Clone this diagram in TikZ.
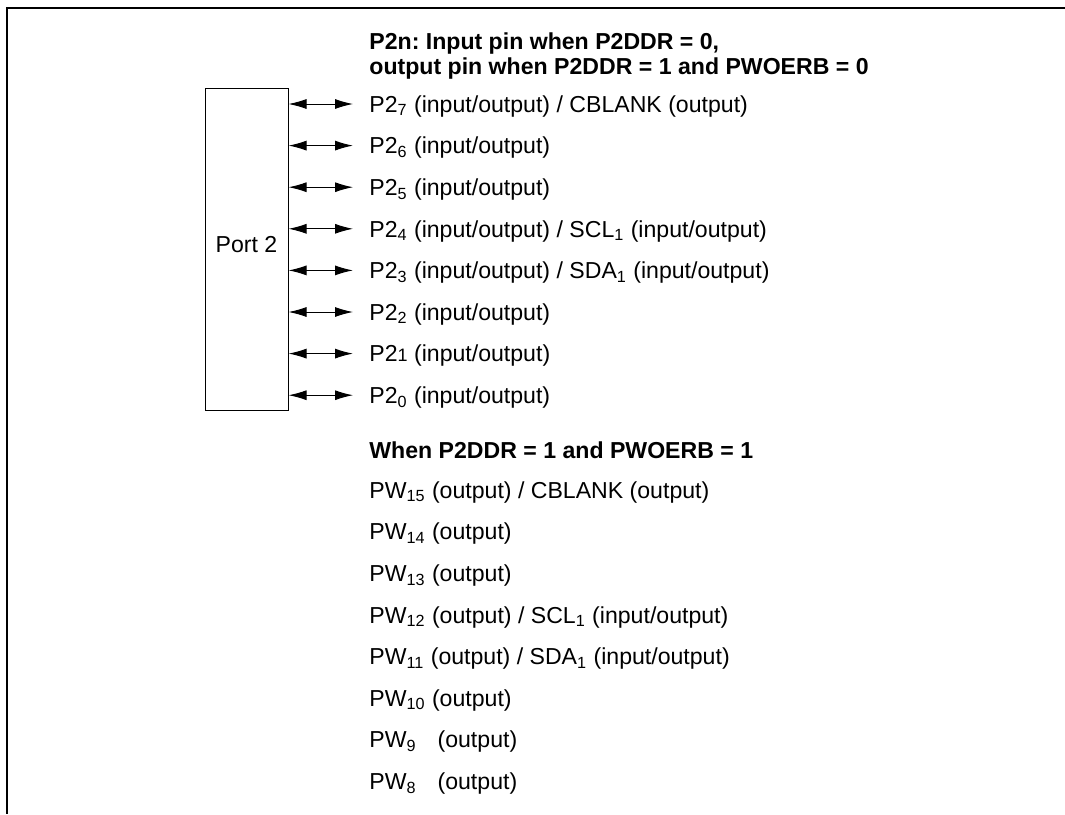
\documentclass[tikz,border=0pt]{standalone}
\usepackage{fontspec}
\setmainfont{Liberation Sans}
\usetikzlibrary{arrows.meta, positioning}
\newcommand{\pinsub}[1]{\textsubscript{#1}}
\frenchspacing

\begin{document}
\begin{tikzpicture}[
  x=0.5pt, y=-0.5pt,
  every node/.style={font=\fontsize{11.55}{12.5}\selectfont},
  portbox/.style={
    draw, line width=0.5pt, inner sep=0pt, text depth=5pt,
    minimum width=41.5pt, minimum height=161pt
  },
  pinlabel/.style={
    anchor=west, inner xsep=8pt, inner ysep=0pt,
    text height=8.2pt, text depth=0pt
  },
  pwlabel/.style={
    anchor=west, inner sep=0pt,
    text height=8.2pt, text depth=0pt
  },
  head/.style={
    anchor=north west, inner sep=0pt, align=left,
    font=\fontsize{11.55}{12.5}\selectfont\bfseries
  },
  bidir/.style={
    {Latex[length=9pt,width=5pt]}-{Latex[length=9pt,width=5pt]},
    line width=0.5pt
  }
]
\useasboundingbox (0,0) rectangle (1065,814);
\draw[line width=1pt] (1065,8) -| (7,814);

\node[portbox] (port) at (246.5,249) {Port 2};

\node[head] (hdA) at (369,32) {P2n: Input pin when P2DDR = 0,\\
  output pin when P2DDR = 1 and PWOERB = 0};

\node[pinlabel] (p7) at (353,104)   {P2\pinsub{7} (input/output) / CBLANK (output)};
\node[pinlabel] (p6) at (353,145.6) {P2\pinsub{6} (input/output)};
\node[pinlabel] (p5) at (353,187.2) {P2\pinsub{5} (input/output)};
\node[pinlabel] (p4) at (353,228.8) {P2\pinsub{4} (input/output) / SCL\pinsub{1} (input/output)};
\node[pinlabel] (p3) at (353,270.4) {P2\pinsub{3} (input/output) / SDA\pinsub{1} (input/output)};
\node[pinlabel] (p2) at (353,312)   {P2\pinsub{2} (input/output)};
\node[pinlabel] (p1) at (353,353.6) {P2{\fontsize{9}{10}\selectfont 1} (input/output)};
\node[pinlabel] (p0) at (353,395.2) {P2\pinsub{0} (input/output)};

\draw[bidir] (port.east |- p7.west) -- (p7.west);
\draw[bidir] (port.east |- p6.west) -- (p6.west);
\draw[bidir] (port.east |- p5.west) -- (p5.west);
\draw[bidir] (port.east |- p4.west) -- (p4.west);
\draw[bidir] (port.east |- p3.west) -- (p3.west);
\draw[bidir] (port.east |- p2.west) -- (p2.west);
\draw[bidir] (port.east |- p1.west) -- (p1.west);
\draw[bidir] (port.east |- p0.west) -- (p0.west);

\node[head] (hdB) at (369,441) {When P2DDR = 1 and PWOERB = 1};

\node[pwlabel] (w15) at (369,490)   {PW\pinsub{15} (output) / CBLANK (output)};
\node[pwlabel] (w14) at (369,531.6) {PW\pinsub{14} (output)};
\node[pwlabel] (w13) at (369,573.2) {PW\pinsub{13} (output)};
\node[pwlabel] (w12) at (369,614.8) {PW\pinsub{12} (output) / SCL\pinsub{1} (input/output)};
\node[pwlabel] (w11) at (369,656.4) {PW\pinsub{11} (output) / SDA\pinsub{1} (input/output)};
\node[pwlabel] (w10) at (369,698)   {PW\pinsub{10} (output)};
\node[pwlabel] (w9)  at (369,739.6) {PW\pinsub{9}\hspace{10.5pt}(output)};
\node[pwlabel] (w8)  at (369,781.2) {PW\pinsub{8}\hspace{10.5pt}(output)};
\end{tikzpicture}
\end{document}
